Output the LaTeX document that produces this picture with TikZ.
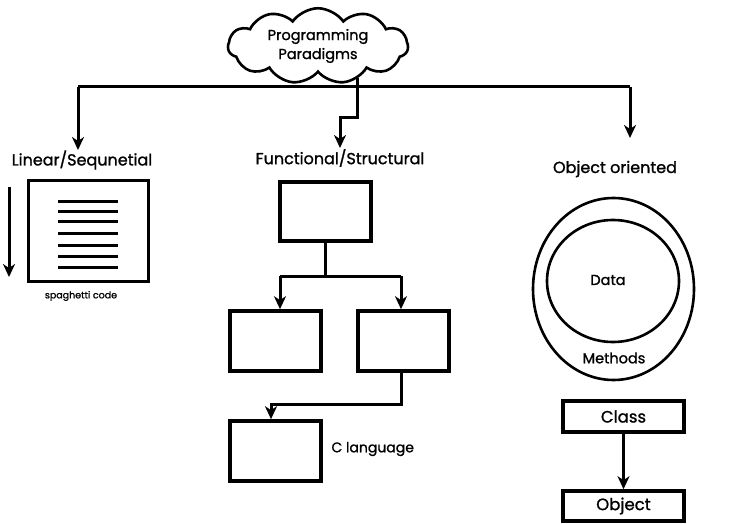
\documentclass[tikz,border=0pt]{standalone}
\usepackage{fontspec}
\setmainfont{Poppins}[FakeBold=1.2]
\usetikzlibrary{arrows.meta,shapes.symbols,shapes.geometric}
\begin{document}
\begin{tikzpicture}[x=1pt,y=-1pt,
  line width=3pt,
  arr/.style={-{Stealth[length=13pt,width=12pt,inset=4pt]}},
  box/.style={draw,line width=3.6pt,inner sep=0pt},
  lbl/.style={font=\fontsize{16}{18}\selectfont,inner sep=0pt},
  codeline/.style={line width=3pt}]
\useasboundingbox (0,0) rectangle (739,524);
% cloud
\node[draw,cloud,cloud puffs=11,cloud puff arc=110,aspect=2.5,line width=2.6pt,
  minimum width=180pt,minimum height=70pt,inner sep=0pt,align=center,
  font=\fontsize{14.5}{19}\selectfont] (cloud) at (318,46) {Programming\\Paradigms};
% branch lines
\coordinate (hl) at (78,87);
\coordinate (hr) at (630,87);
\coordinate (cb) at (357,87);
\coordinate (ct) at (357,78);
\coordinate (m1) at (357,118);
\coordinate (m2) at (340,118);
\draw (hl) -- (hr);
\draw (ct) -- (cb);
\node[lbl] (lin) at (82,160) {Linear/Sequnetial};
\node[lbl] (fun) at (340,158) {Functional/Structural};
\node[lbl] (obj) at (615,169) {Object oriented};
\draw[arr] (hl) -- (78,150);
\draw[arr] (cb) -- (m1) -- (m2) -- (340,148);
\draw[arr] (hr) -- (630,138);
% linear
\node[box,minimum width=120pt,minimum height=101pt] (lbox) at (88.5,231) {};
\foreach \yy in {201,211,221,233,245,256,267}
  \draw[codeline] (58,\yy) -- (118,\yy);
\coordinate (la1) at (9,187);
\coordinate (la2) at (9,277);
\draw[arr] (la1) -- (la2);
\node[font=\fontsize{9.5}{11}\selectfont,inner sep=0pt] (sp) at (81,296) {spaghetti code};
% functional
\node[box,minimum width=91pt,minimum height=59pt] (f1) at (325.5,211.5) {};
\node[box,minimum width=91pt,minimum height=60pt] (f2) at (275.5,341) {};
\node[box,minimum width=91pt,minimum height=60pt] (f3) at (403.5,341) {};
\node[box,minimum width=91pt,minimum height=60pt] (f4) at (275.5,451) {};
\coordinate (j1) at (325,276);
\coordinate (jl) at (280,276);
\coordinate (jr) at (401,276);
\draw (f1.south -| j1) -- (j1);
\draw (jl) -- (jr);
\draw[arr] (jl) -- (f2.north -| jl);
\draw[arr] (jr) -- (f3.north -| jr);
\coordinate (k1) at (401,404);
\coordinate (k2) at (271,404);
\draw[arr] (f3.south -| k1) -- (k1) -- (k2) -- (f4.north -| k2);
\node[lbl,anchor=west,font=\fontsize{14}{16}\selectfont] (cl) at (330,449) {C language};
% object oriented
\node[draw,ellipse,line width=2.6pt,minimum width=161pt,minimum height=182pt,inner sep=0pt] (outer) at (613.5,289) {};
\node[draw,ellipse,line width=2.6pt,minimum width=132pt,minimum height=122pt,inner sep=0pt] (inner) at (613,281) {};
\node[lbl,font=\fontsize{14.5}{16}\selectfont] (data) at (608,280) {Data};
\node[lbl,font=\fontsize{14.5}{16}\selectfont] (meth) at (614,358) {Methods};
\node[box,minimum width=121pt,minimum height=31pt,font=\fontsize{16.5}{18}\selectfont] (class) at (623.5,416.5) {Class};
\node[box,minimum width=121pt,minimum height=30pt,font=\fontsize{16.5}{18}\selectfont] (object) at (623.5,506) {Object};
\draw[arr] (class) -- (object);
\end{tikzpicture}
\end{document}
